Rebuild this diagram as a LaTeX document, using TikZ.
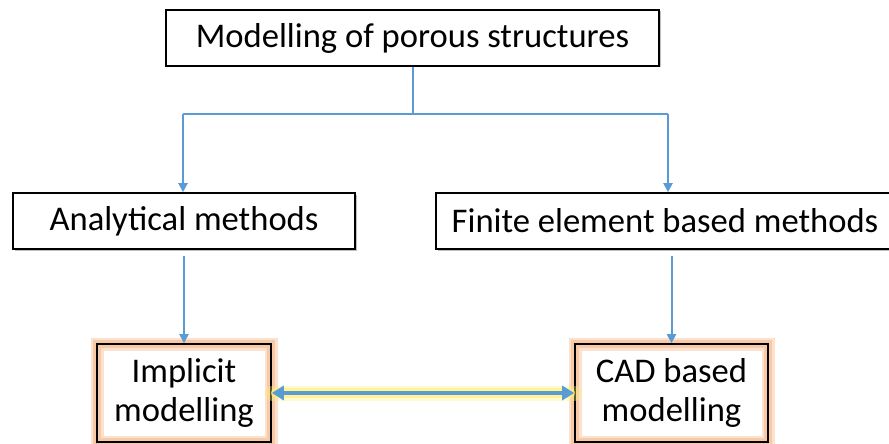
\documentclass[tikz,border=0pt]{standalone}
\usepackage{fontspec}
\setmainfont{Carlito}
\usetikzlibrary{arrows.meta,shadows,calc}
\definecolor{linkblue}{HTML}{5B9BD5}
\definecolor{glowyellow}{HTML}{FFF27A}
\definecolor{glowpeach}{HTML}{F8C9A6}
\tikzset{
  box/.style={draw=black, line width=1.6pt, fill=white, inner sep=0pt,
    font=\fontsize{34.6}{39}\selectfont, align=center,
    drop shadow={shadow xshift=1.5pt, shadow yshift=-1.5pt, opacity=0.25, fill=black}},
  glowbox/.style={draw=black, line width=1.6pt, inner sep=0pt,
    font=\fontsize{34.6}{39}\selectfont, align=center,
    preaction={fill=white},
    preaction={draw=glowpeach!55, line width=13pt},
    preaction={draw=glowpeach, line width=8pt}},
  link/.style={draw=linkblue, line width=2pt},
  arr/.style={link, -{Triangle[length=9pt,width=9pt]}},
}
\begin{document}
\begin{tikzpicture}[x=1pt,y=-1pt]
  \useasboundingbox (0,0) rectangle (889,444);

  % boxes
  \node[box, minimum width=493pt, minimum height=56pt] (top) at (412.5,38) {Modelling of porous structures};
  \node[box, minimum width=342pt, minimum height=56pt] (an) at (184,221) {Analytical methods};
  \node[box, minimum width=458pt, minimum height=56pt] (fe) at (665,221) {Finite element based methods};
  \node[glowbox, minimum width=174pt, minimum height=98pt] (impl) at (184,393) {Implicit\\modelling};
  \node[glowbox, minimum width=193pt, minimum height=98pt] (cad) at (671.5,393) {CAD based\\modelling};

  % branch from the top box
  \coordinate (stem) at ($(top.south)+(0.5,0)$);
  \coordinate (leftend) at (183,114);
  \coordinate (rightend) at (668,114);
  \draw[link] (stem) -- (stem |- leftend);
  \draw[link] (leftend) -- (rightend);
  \draw[arr] (leftend) -- (leftend |- an.north);
  \draw[arr] (rightend) -- (rightend |- fe.north);

  % downward links
  \draw[arr, shorten <=6pt] (an.south) -- (impl.north);
  \draw[arr, shorten <=6pt] (fe.south -| cad.north) -- (cad.north);

  % two-way link with a yellow glow
  \draw[glowyellow, opacity=0.35, line width=15pt, line cap=round] (impl.east) -- (cad.west);
  \draw[glowyellow, opacity=0.7, line width=10pt, line cap=round] ([xshift=4pt]impl.east) -- ([xshift=-4pt]cad.west);
  \draw[link, line width=4pt, {Triangle[length=12pt,width=14pt]}-{Triangle[length=12pt,width=14pt]}] (impl.east) -- (cad.west);
\end{tikzpicture}
\end{document}
